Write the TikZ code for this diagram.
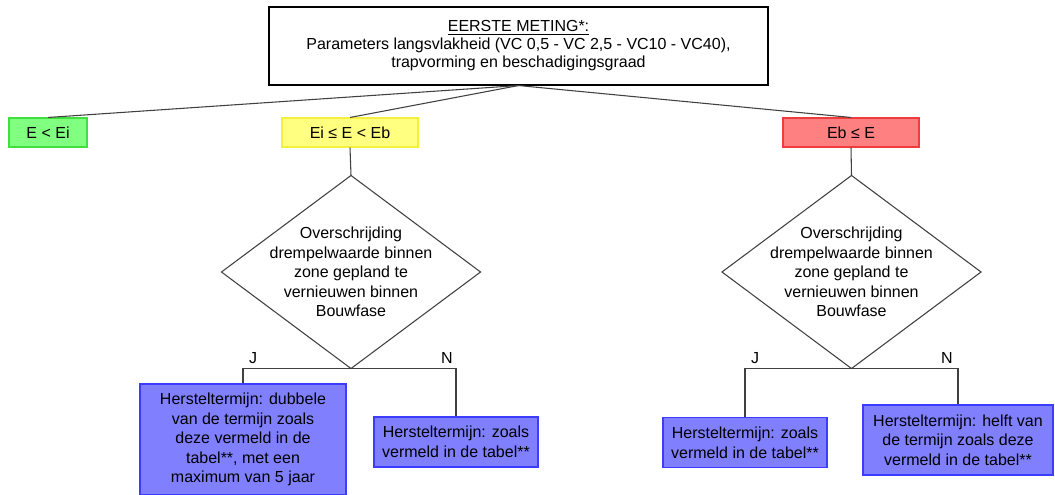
\documentclass[tikz,border=0pt]{standalone}
\usepackage{fontspec}
\setmainfont{Liberation Sans}
\usepackage{tikz}

\definecolor{groenvul}{HTML}{80FF80}
\definecolor{groenrand}{HTML}{40E040}
\definecolor{geelvul}{HTML}{FFFF80}
\definecolor{geelrand}{HTML}{F4F040}
\definecolor{roodvul}{HTML}{FF8080}
\definecolor{roodrand}{HTML}{F03C3C}
\definecolor{blauwvul}{HTML}{8080FF}
\definecolor{blauwrand}{HTML}{3C3CFF}

\begin{document}
\begin{tikzpicture}[x=0.75pt,y=0.75pt,yscale=-1,xscale=1,
  font=\fontsize{12}{14.7}\selectfont,
  lijn/.style={draw=black!75,line width=0.8pt},
  kader/.style={inner sep=0pt,align=center,line width=0.8pt},
  klasse/.style={kader,minimum height=21.75pt},
  termijn/.style={kader,draw=blauwrand,fill=blauwvul}]
\useasboundingbox (0,0) rectangle (1055,495);

%Shape: Rectangle [id:meting]
\draw (518.5,46) node [kader,draw=black,minimum width=374.25pt,minimum height=58.5pt,font=\fontsize{12}{13.5}\selectfont] (meting) {\underline{EERSTE METING*:}\\Parameters langsvlakheid (VC 0,5 - VC 2,5 - VC10 - VC40),\\trapvorming en beschadigingsgraad};

%Shape: Rectangle [id:lager]
\draw (48,132.5) node [klasse,draw=groenrand,fill=groenvul,minimum width=58.5pt] (lager) {E < Ei};
%Shape: Rectangle [id:midden]
\draw (350,132.5) node [klasse,draw=geelrand,fill=geelvul,minimum width=102pt] (midden) {Ei ≤ E < Eb};
%Shape: Rectangle [id:hoger]
\draw (851,132.5) node [klasse,draw=roodrand,fill=roodvul,minimum width=102pt] (hoger) {Eb ≤ E};

%Straight Lines [id:vanmeting]
\draw [lijn] (meting.south) -- (lager.north) ;
\draw [lijn] (meting.south) -- (midden.north) ;
\draw [lijn] (meting.south) -- (hoger.north) ;

%Shape: Diamond [id:vraagL]
\draw (351,272) node [kader,minimum width=193.5pt,minimum height=144pt] (vraagL) {Overschrijding\\drempelwaarde binnen\\zone gepland te\\vernieuwen binnen\\Bouwfase};
\draw [lijn] (vraagL.north) -- (vraagL.east) -- (vraagL.south) -- (vraagL.west) -- cycle ;
%Shape: Diamond [id:vraagR]
\draw (851.5,272) node [kader,minimum width=193.5pt,minimum height=144pt] (vraagR) {Overschrijding\\drempelwaarde binnen\\zone gepland te\\vernieuwen binnen\\Bouwfase};
\draw [lijn] (vraagR.north) -- (vraagR.east) -- (vraagR.south) -- (vraagR.west) -- cycle ;

%Straight Lines [id:naarvraag]
\draw [lijn] (midden.south) -- (vraagL.north) ;
\draw [lijn] (hoger.south) -- (vraagR.north) ;

%Shape: Rectangle [id:hersJL]
\draw (243,439.5) node [termijn,minimum width=154.5pt,minimum height=83.25pt] (hersJL) {Hersteltermijn: dubbele\\van de termijn zoals\\deze vermeld in de\\tabel**, met een\\maximum van 5 jaar};
%Shape: Rectangle [id:hersNL]
\draw (456,442) node [termijn,minimum width=123pt,minimum height=37.5pt] (hersNL) {Hersteltermijn: zoals\\vermeld in de tabel**};
%Shape: Rectangle [id:hersJR]
\draw (745,442.5) node [termijn,minimum width=123pt,minimum height=37.5pt] (hersJR) {Hersteltermijn: zoals\\vermeld in de tabel**};
%Shape: Rectangle [id:hersNR]
\draw (958,440) node [termijn,minimum width=142.5pt,minimum height=52.5pt] (hersNR) {Hersteltermijn: helft van\\de termijn zoals deze\\vermeld in de tabel**};

%Straight Lines [id:takken]
\draw [lijn] (hersJL.north) |- (vraagL.south) -| (hersNL.north) ;
\draw [lijn] (hersJR.north) |- (vraagR.south) -| (hersNR.north) ;

% Text Node
\draw (253,358) node [inner sep=0.75pt] (jaL) {J};
% Text Node
\draw (447,358) node [inner sep=0.75pt] (neeL) {N};
% Text Node
\draw (755,358) node [inner sep=0.75pt] (jaR) {J};
% Text Node
\draw (947,358) node [inner sep=0.75pt] (neeR) {N};

\end{tikzpicture}
\end{document}
